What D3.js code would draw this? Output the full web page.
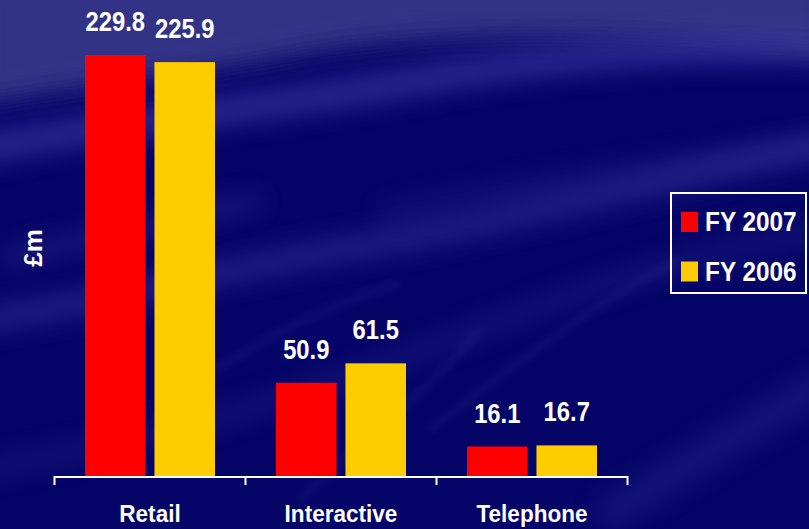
<!DOCTYPE html>
<html>
<head>
<meta charset="utf-8">
<script src="https://cdn.jsdelivr.net/npm/d3@7"></script>
<style>
  html, body { margin: 0; padding: 0; background: #050568; }
  svg { display: block; }
  text { font-family: "Liberation Sans", Arial, sans-serif; font-weight: bold; fill: #ffffff; }
</style>
</head>
<body>
<svg id="chart" width="809" height="529"></svg>
<script>
const categories = ["Retail", "Interactive", "Telephone"];
const seriesNames = ["FY 2007", "FY 2006"];
const fy2007 = [229.8, 50.9, 16.1];
const fy2006 = [225.9, 61.5, 16.7];
const seriesColors = ["#ff0000", "#ffcc00"];
const yAxisLabel = "£m";

const W = 809, H = 529;
const svg = d3.select("#chart");
const defs = svg.append("defs");

const blur = defs.append("filter").attr("id", "blur").attr("x", "-20%").attr("y", "-50%").attr("width", "140%").attr("height", "200%");
blur.append("feGaussianBlur").attr("stdDeviation", 12);
const blurS = defs.append("filter").attr("id", "blurS").attr("x", "-20%").attr("y", "-50%").attr("width", "140%").attr("height", "200%");
blurS.append("feGaussianBlur").attr("stdDeviation", 4);

const bg = svg.append("g");
bg.append("rect").attr("width", W).attr("height", H).attr("fill", "#050568");
// upper light haze
bg.append("path")
  .attr("d", "M-20,-20 L830,-20 L830,50 C650,38 450,28 300,55 C200,75 100,85 -20,105 Z")
  .attr("fill", "#38378a").attr("opacity", 0.9).attr("filter", "url(#blur)");
// broad streaks
const streaks = [
  {d: "M-20,150 C120,120 260,110 420,80 C560,55 700,45 830,50", w: 30, o: 0.5},
  {d: "M-20,320 C120,300 260,260 400,240 C560,210 700,170 830,145", w: 24, o: 0.4},
  {d: "M380,215 C520,185 680,165 830,140", w: 18, o: 0.22},
  {d: "M-20,470 C150,440 300,400 450,340 C580,290 700,250 830,230", w: 16, o: 0.25},
  {d: "M0,260 C80,240 180,220 260,200", w: 18, o: 0.3},
  {d: "M600,520 C680,470 760,420 830,380", w: 34, o: 0.22}
];
bg.selectAll("path.streak").data(streaks).join("path")
  .attr("class", "streak")
  .attr("d", d => d.d)
  .attr("fill", "none")
  .attr("stroke", "#4a4ab0")
  .attr("stroke-width", d => d.w)
  .attr("opacity", d => d.o)
  .attr("filter", "url(#blur)");
// thin streaks
const thin = [
  "M215,370 C280,330 340,300 400,283",
  "M300,500 C360,440 420,400 480,330",
  "M430,430 C520,360 600,300 680,260"
];
bg.selectAll("path.thin").data(thin).join("path")
  .attr("class", "thin").attr("d", d => d).attr("fill", "none")
  .attr("stroke", "#5a5ac0").attr("stroke-width", 4).attr("opacity", 0.22)
  .attr("filter", "url(#blurS)");

// ---- scales ----
const x0 = d3.scaleBand().domain(categories).range([54.5, 627.5]).paddingInner(0).paddingOuter(0);
const bw = x0.bandwidth();
const x1 = d3.scaleBand().domain(seriesNames).range([30.5, bw - 30.5]).paddingInner(9 / 70).paddingOuter(0);
const y = d3.scaleLinear().domain([0, 250]).range([476, 476 - 250 * 1.832]);

const data = categories.map((c, i) => ({
  cat: c,
  vals: [{s: seriesNames[0], v: fy2007[i], color: seriesColors[0]},
         {s: seriesNames[1], v: fy2006[i], color: seriesColors[1]}]
}));

// ---- bars ----
const groups = svg.append("g").selectAll("g").data(data).join("g")
  .attr("transform", d => `translate(${x0(d.cat)},0)`);
groups.selectAll("rect").data(d => d.vals).join("rect")
  .attr("x", d => x1(d.s))
  .attr("width", x1.bandwidth())
  .attr("y", d => y(d.v))
  .attr("height", d => y(0) - y(d.v))
  .attr("fill", d => d.color);

// value labels
groups.selectAll("text").data(d => d.vals).join("text")
  .attr("text-anchor", "middle")
  .attr("font-size", 28)
  .attr("transform", d => `translate(${x1(d.s) + x1.bandwidth() / 2},${y(d.v) - 24}) scale(0.85,1)`)
  .text(d => d.v.toFixed(1));

// ---- axis ----
const axis = svg.append("g");
axis.append("line")
  .attr("x1", x0.range()[0]).attr("x2", x0.range()[1])
  .attr("y1", y(0) + 1).attr("y2", y(0) + 1)
  .attr("stroke", "#ffffff").attr("stroke-width", 2);
const tickXs = categories.map(c => x0(c)).concat([x0(categories[categories.length - 1]) + bw]);
axis.selectAll("line.tick").data(tickXs).join("line")
  .attr("class", "tick")
  .attr("x1", d => d).attr("x2", d => d)
  .attr("y1", y(0)).attr("y2", y(0) + 9)
  .attr("stroke", "#ffffff").attr("stroke-width", 2);
axis.selectAll("text").data(categories).join("text")
  .attr("text-anchor", "middle")
  .attr("font-size", 24)
  .attr("transform", d => `translate(${x0(d) + bw / 2},522) scale(0.94,1)`)
  .text(d => d);

// y axis label
svg.append("text")
  .attr("text-anchor", "middle")
  .attr("font-size", 26)
  .attr("transform", "translate(42,248) rotate(-90)")
  .text(yAxisLabel);

// ---- legend ----
const legend = svg.append("g");
legend.append("rect")
  .attr("x", 671).attr("y", 193).attr("width", 135).attr("height", 100)
  .attr("fill", "none").attr("stroke", "#ffffff").attr("stroke-width", 2);
const items = legend.selectAll("g").data(seriesNames).join("g")
  .attr("transform", (d, i) => `translate(0,${i * 49.5})`);
items.append("rect")
  .attr("x", 681).attr("y", 212).attr("width", 17).attr("height", 20)
  .attr("fill", (d, i) => seriesColors[i]);
items.append("text")
  .attr("font-size", 28)
  .attr("transform", "translate(705,231) scale(0.87,1)")
  .text(d => d);
</script>
</body>
</html>
